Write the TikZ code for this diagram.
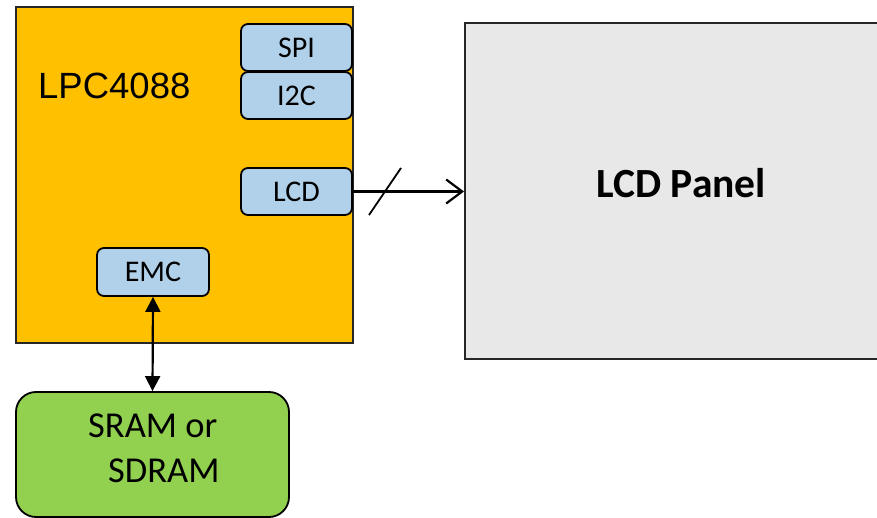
\documentclass[tikz,border=0pt]{standalone}
\usepackage{fontspec}
\setmainfont{Carlito}
\newfontfamily\arialfont{Liberation Sans}
\usetikzlibrary{arrows.meta,calc}
\definecolor{chiporange}{HTML}{FFC000}
\definecolor{blockblue}{HTML}{B1D0E9}
\definecolor{memgreen}{HTML}{92D050}
\definecolor{panelgray}{HTML}{E8E8E8}
\tikzset{
  chip/.style={draw=black!85, line width=1.8pt, fill=chiporange, minimum width=337pt, minimum height=336pt, inner sep=0pt},
  ifblock/.style={draw=black, line width=1.8pt, fill=blockblue, rounded corners=7pt, minimum width=111pt, minimum height=47pt, inner sep=0pt, font=\fontsize{30}{34}\selectfont},
  panelbox/.style={draw=black!85, line width=2pt, fill=panelgray, minimum width=436pt, minimum height=336pt, inner sep=0pt},
  membox/.style={draw=black, line width=1.8pt, fill=memgreen, rounded corners=20pt, minimum width=273pt, minimum height=125pt, inner sep=0pt},
  conn/.style={line width=2.2pt, draw=black},
  memtip/.tip={Triangle[length=15pt,width=15pt]},
  bustip/.tip={Straight Barb[length=16pt,width=24pt]},
}
\begin{document}
\begin{tikzpicture}[x=1pt,y=-1pt]
\useasboundingbox (0,0) rectangle (877,518);
\node[chip] (chip) at (184.5,175) {};
\node[anchor=base west, font=\arialfont\fontsize{36.5}{40}\selectfont, inner sep=0pt] (chiplabel) at (38,99) {LPC4088};
\node[ifblock] (spi) at (296.5,47.5) {SPI};
\node[ifblock] (i2c) at (296.5,95.5) {I2C};
\node[ifblock] (lcd) at (296.5,191.5) {LCD};
\node[ifblock, minimum width=112pt, minimum height=48pt] (emc) at (153,272) {EMC};
\node[panelbox] (panel) at (683,191) {};
\node[anchor=base, font=\bfseries\fontsize{41.5}{46}\selectfont, inner sep=0pt] (paneltext) at (681,198) {LCD Panel};
\node[membox] (mem) at (152.5,454.5) {};
\node[anchor=base west, font=\fontsize{36.5}{45}\selectfont, inner sep=0pt, align=left] (memtext) at (88,482) {SRAM or\\\hspace*{20pt}SDRAM};
\draw[conn, memtip-memtip] (emc.south) -- (mem.north);
\draw[conn, -bustip] (lcd.east) -- (lcd.east -| panel.west);
\coordinate (slash) at (385,191.5);
\draw[conn, line width=1.8pt] ($(slash)+(-16,23.5)$) -- ($(slash)+(16,-23.5)$);
\end{tikzpicture}
\end{document}
